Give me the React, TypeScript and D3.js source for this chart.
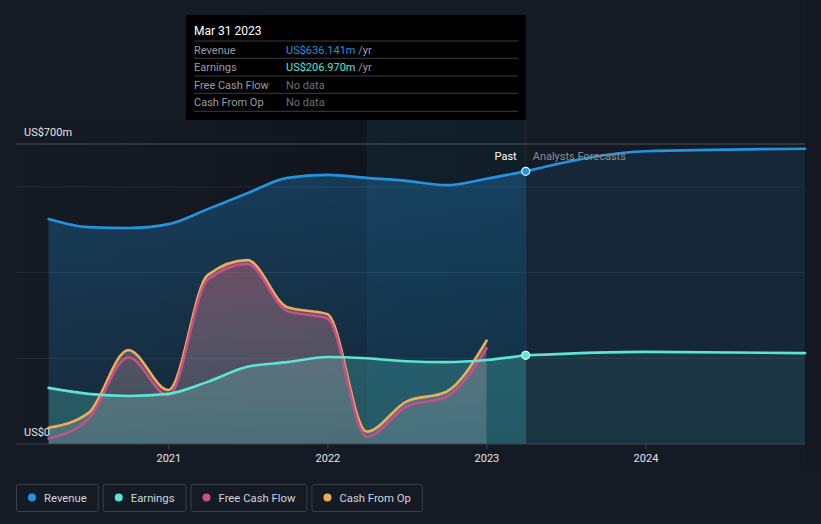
import React, { useEffect, useRef } from 'react';
import * as d3 from 'd3';

// quarter-end dates, past
const pastDates = [
  '2020-03-31', '2020-06-30', '2020-09-30', '2020-12-31',
  '2021-03-31', '2021-06-30', '2021-09-30', '2021-12-31',
  '2022-03-31', '2022-06-30', '2022-09-30', '2022-12-31',
  '2023-03-31',
];
const forecastDates = ['2023-03-31', '2023-12-31', '2024-12-31'];

// values in US$m
const revenuePast = [525, 506, 504, 513, 548, 585, 621, 628, 621, 614, 604, 619, 636.141];
const revenueForecast = [636.141, 683, 689];
const earningsPast = [131, 117, 112, 117, 145, 180, 191, 203, 200, 193, 191, 196, 206.97];
const earningsForecast = [206.97, 215, 212];
const fcfPast = [13, 58, 202, 113, 383, 420, 310, 293, 17, 87, 110, 223];
const cfoPast = [38, 72, 219, 126, 394, 429, 319, 303, 29, 99, 122, 241];

const yearTicks = ['2021-01-01', '2022-01-01', '2023-01-01', '2024-01-01'];
const yearLabels = ['2021', '2022', '2023', '2024'];
const gridValues = [200, 400, 600];

const legendItems = [
  { name: 'Revenue', color: '#2394df' },
  { name: 'Earnings', color: '#5de4d2' },
  { name: 'Free Cash Flow', color: '#c8508a' },
  { name: 'Cash From Op', color: '#e8ae5c' },
];

const tooltipRows = [
  { label: 'Revenue', value: 'US$636.141m', color: '#2394df', unit: ' /yr' },
  { label: 'Earnings', value: 'US$206.970m', color: '#5de4d2', unit: ' /yr' },
  { label: 'Free Cash Flow', value: 'No data', color: '#6b7078', unit: '' },
  { label: 'Cash From Op', value: 'No data', color: '#6b7078', unit: '' },
];

type Pt = { d: Date; v: number };
const zip = (dates: string[], vals: number[]): Pt[] =>
  vals.map((v, i) => ({ d: new Date(dates[i] + 'T00:00:00'), v }));

export default function App() {
  const svgRef = useRef<SVGSVGElement>(null);

  useEffect(() => {
    document.body.style.margin = '0';
    document.body.style.background = '#151b25';
    if (!svgRef.current) return;
    const svg = d3.select(svgRef.current);
    svg.selectAll('*').remove();

    const width = 821;
    const left = 16;
    const right = 805;
    const base = 444;
    const font = 'Roboto, "Noto Sans", sans-serif';

    const x = d3.scaleTime()
      .domain([new Date('2020-03-31T00:00:00'), new Date('2024-12-31T00:00:00')])
      .range([48.6, 805]);
    const y = d3.scaleLinear().domain([0, 700]).range([base, 144]);

    const nowX = x(new Date('2023-03-31T00:00:00'));
    const bandX = x(new Date('2022-03-31T00:00:00'));

    const defs = svg.append('defs');
    const pastShade = defs.append('linearGradient').attr('id', 'pastShade')
      .attr('x1', 0).attr('x2', 1).attr('y1', 0).attr('y2', 0);
    pastShade.append('stop').attr('offset', '0%').attr('stop-color', '#000').attr('stop-opacity', 0.02);
    pastShade.append('stop').attr('offset', '100%').attr('stop-color', '#000').attr('stop-opacity', 0.28);

    const revGrad = defs.append('linearGradient').attr('id', 'revGrad')
      .attr('x1', 0).attr('x2', 0).attr('y1', 0).attr('y2', 1);
    revGrad.append('stop').attr('offset', '0%').attr('stop-color', '#2394df').attr('stop-opacity', 0.3);
    revGrad.append('stop').attr('offset', '100%').attr('stop-color', '#2394df').attr('stop-opacity', 0.12);

    const cashGrad = defs.append('linearGradient').attr('id', 'cashGrad')
      .attr('gradientUnits', 'userSpaceOnUse')
      .attr('x1', 0).attr('x2', 0).attr('y1', y(430)).attr('y2', base);
    cashGrad.append('stop').attr('offset', '0%').attr('stop-color', '#d46a7c').attr('stop-opacity', 0.45);
    cashGrad.append('stop').attr('offset', '100%').attr('stop-color', '#c8c8cc').attr('stop-opacity', 0.22);

    // past region shading
    svg.append('rect').attr('x', left).attr('y', 120).attr('width', nowX - left).attr('height', base - 120)
      .attr('fill', 'url(#pastShade)');
    // right margin strip
    svg.append('rect').attr('x', right).attr('y', 0).attr('width', width - right).attr('height', 470)
      .attr('fill', '#000').attr('opacity', 0.08);

    const line = d3.line<Pt>().x(p => x(p.d)).y(p => y(p.v)).curve(d3.curveMonotoneX);
    const area = d3.area<Pt>().x(p => x(p.d)).y0(base).y1(p => y(p.v)).curve(d3.curveMonotoneX);

    const rev = zip(pastDates, revenuePast);
    const revF = zip(forecastDates, revenueForecast);
    const earn = zip(pastDates, earningsPast);
    const earnF = zip(forecastDates, earningsForecast);
    const fcf = zip(pastDates, fcfPast);
    const cfo = zip(pastDates, cfoPast);

    // revenue areas
    svg.append('path').datum(rev).attr('d', area).attr('fill', 'url(#revGrad)');
    svg.append('path').datum(revF).attr('d', area).attr('fill', '#2394df').attr('opacity', 0.1);

    // gridlines
    gridValues.forEach(v => {
      svg.append('line').attr('x1', left).attr('x2', right).attr('y1', y(v)).attr('y2', y(v))
        .attr('stroke', '#ffffff').attr('stroke-opacity', 0.07).attr('stroke-width', 1);
    });
    svg.append('line').attr('x1', left).attr('x2', right).attr('y1', y(700)).attr('y2', y(700))
      .attr('stroke', '#4a4f58').attr('stroke-width', 1);

    // earnings areas
    svg.append('path').datum(earn).attr('d', area).attr('fill', '#5de4d2').attr('opacity', 0.25);
    svg.append('path').datum(earnF).attr('d', area).attr('fill', '#5de4d2').attr('opacity', 0.08);

    // cash areas
    svg.append('path').datum(cfo).attr('d', area).attr('fill', 'url(#cashGrad)');

    // highlight band
    svg.append('rect').attr('x', bandX).attr('y', 120).attr('width', nowX - bandX).attr('height', base - 120)
      .attr('fill', '#2394df').attr('opacity', 0.08);
    svg.append('line').attr('x1', nowX).attr('x2', nowX).attr('y1', 120).attr('y2', base)
      .attr('stroke', '#ffffff').attr('stroke-opacity', 0.07);

    // lines
    const stroke = (data: Pt[], color: string) =>
      svg.append('path').datum(data).attr('d', line).attr('fill', 'none')
        .attr('stroke', color).attr('stroke-width', 2.6).attr('stroke-linecap', 'round');
    stroke(cfo, '#e8ae5c');
    stroke(fcf, '#c8508a');
    stroke(earn, '#5de4d2');
    stroke(earnF, '#5de4d2');
    stroke(rev, '#2394df');
    stroke(revF, '#2394df');

    // markers at Mar 31 2023
    [[636.141, '#2394df'], [206.97, '#5de4d2']].forEach(([v, c]) => {
      svg.append('circle').attr('cx', nowX).attr('cy', y(v as number)).attr('r', 4)
        .attr('fill', c as string).attr('stroke', '#e8f4ff').attr('stroke-width', 1.2);
    });

    // past / forecast labels
    svg.append('text').attr('x', nowX - 9).attr('y', 160).attr('text-anchor', 'end')
      .attr('font-family', font).attr('font-size', 11).attr('fill', '#ffffff').text('Past');
    svg.append('text').attr('x', nowX + 7).attr('y', 160)
      .attr('font-family', font).attr('font-size', 11).attr('fill', '#8a8f97').text('Analysts Forecasts');

    // y labels
    svg.append('text').attr('x', 24).attr('y', 136).attr('font-family', font).attr('font-size', 11)
      .attr('fill', '#e6e6e6').text('US$700m');
    svg.append('text').attr('x', 24).attr('y', 436).attr('font-family', font).attr('font-size', 11)
      .attr('fill', '#e6e6e6').text('US$0');

    // x axis
    svg.append('line').attr('x1', left).attr('x2', right).attr('y1', base).attr('y2', base)
      .attr('stroke', '#3e444e').attr('stroke-width', 1);
    yearTicks.forEach((t, i) => {
      const tx = x(new Date(t + 'T00:00:00'));
      svg.append('line').attr('x1', tx).attr('x2', tx).attr('y1', base).attr('y2', base + 5)
        .attr('stroke', '#3e444e');
      svg.append('text').attr('x', tx).attr('y', 462).attr('text-anchor', 'middle')
        .attr('font-family', font).attr('font-size', 11).attr('fill', '#e6e6e6').text(yearLabels[i]);
    });

    // tooltip
    const tip = svg.append('g');
    tip.append('rect').attr('x', 186).attr('y', 15).attr('width', nowX - 186).attr('height', 105)
      .attr('fill', '#000000');
    tip.append('text').attr('x', 194).attr('y', 35).attr('font-family', font).attr('font-size', 12)
      .attr('fill', '#ffffff').text('Mar 31 2023');
    const sepY = [41, 58.3, 76, 93.3, 111.3];
    sepY.forEach(sy => {
      tip.append('line').attr('x1', 194).attr('x2', 518).attr('y1', sy).attr('y2', sy)
        .attr('stroke', '#3a3d42').attr('stroke-width', 1);
    });
    tooltipRows.forEach((r, i) => {
      const ty = sepY[i] + 12.5;
      tip.append('text').attr('x', 194).attr('y', ty).attr('font-family', font).attr('font-size', 11)
        .attr('fill', '#9a9ea4').text(r.label);
      const t = tip.append('text').attr('x', 286).attr('y', ty).attr('font-family', font).attr('font-size', 11);
      t.append('tspan').attr('fill', r.color).text(r.value);
      if (r.unit) t.append('tspan').attr('fill', '#9a9ea4').text(r.unit);
    });

    // legend
    let lx = 16;
    legendItems.forEach(item => {
      const g = svg.append('g');
      const txt = g.append('text').attr('x', lx + 28).attr('y', 501.5).attr('font-family', font)
        .attr('font-size', 11.3).attr('fill', '#d2d5d9').text(item.name);
      const tw = (txt.node() as SVGTextElement).getComputedTextLength();
      const w = tw + 39;
      g.insert('rect', 'text').attr('x', lx + 0.5).attr('y', 484.5).attr('width', w).attr('height', 27)
        .attr('rx', 2).attr('fill', 'none').attr('stroke', '#3a3f48');
      g.append('circle').attr('cx', lx + 16).attr('cy', 497.5).attr('r', 4).attr('fill', item.color);
      lx += w + 5;
    });
  }, []);

  return (
    <div style={{ position: 'absolute', left: 0, top: 0, width: 821, height: 524, background: '#151b25' }}>
      <svg ref={svgRef} width={821} height={524} />
    </div>
  );
}
